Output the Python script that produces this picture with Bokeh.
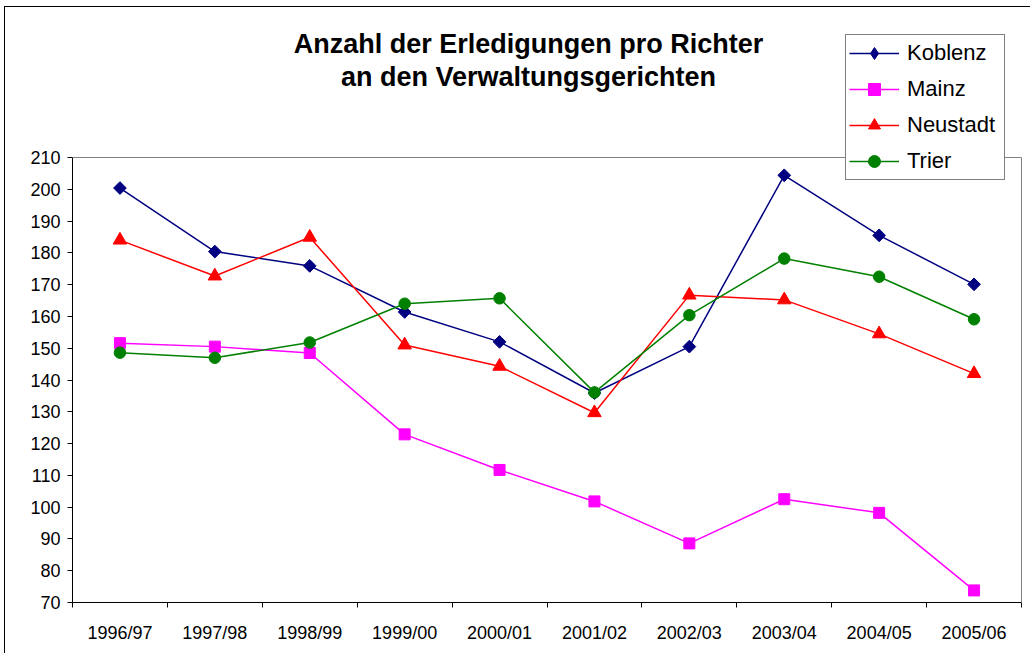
from bokeh.plotting import figure
from bokeh.models import (Range1d, FixedTicker, Legend, LegendItem, Label,
                          LinearAxis, Span)
from bokeh.embed import file_html
from bokeh.resources import INLINE
import numpy as np

categories = ["1996/97", "1997/98", "1998/99", "1999/00", "2000/01",
              "2001/02", "2002/03", "2003/04", "2004/05", "2005/06"]
koblenz = [200.4, 180.4, 175.9, 161.4, 152.0, 135.9, 150.5, 204.4, 185.5, 170.1]
mainz = [151.6, 150.5, 148.5, 122.9, 111.7, 101.8, 88.6, 102.5, 98.2, 73.8]
neustadt = [184.0, 172.7, 184.9, 151.0, 144.3, 129.7, 166.7, 165.2, 154.5, 142.0]
trier = [148.6, 147.0, 151.8, 164.0, 165.7, 136.1, 160.4, 178.2, 172.5, 159.1]
y_ticks = [70, 80, 90, 100, 110, 120, 130, 140, 150, 160, 170, 180, 190, 200, 210]
title_lines = ["Anzahl der Erledigungen pro Richter", "an den Verwaltungsgerichten"]

FONT = "Liberation Sans"

n = len(categories)
xs = list(np.arange(n) + 0.5)

# plot area is 445 px tall for the 70..210 span; the frame reaches up to the
# canvas top so that the title and legend can be drawn above the value area
frame_h = 595
px_per_unit = 445 / (y_ticks[-1] - y_ticks[0])
y_top = y_ticks[0] + frame_h / px_per_unit

p = figure(width=1026, height=647, output_backend="svg", toolbar_location=None,
           x_range=Range1d(0, n), y_range=Range1d(y_ticks[0], y_top),
           x_axis_type=None, y_axis_type=None,
           min_border_left=67, min_border_right=10, min_border_top=0,
           min_border_bottom=52,
           styles={"border-left": "1px solid black", "border-top": "1px solid black",
                   "margin-left": "4px", "margin-top": "6px"})
p.background_fill_color = "white"
p.border_fill_color = "white"
p.outline_line_color = None

# y axis
yax = LinearAxis(ticker=FixedTicker(ticks=y_ticks, minor_ticks=[]))
yax.bounds = (y_ticks[0], y_ticks[-1])
yax.axis_line_color = "black"
yax.major_tick_line_color = "black"
yax.major_tick_out = 5
yax.major_tick_in = 0
yax.minor_tick_line_color = None
yax.major_label_standoff = 7
yax.major_label_text_font = FONT
yax.major_label_text_font_size = "18px"
yax.major_label_text_color = "black"
p.add_layout(yax, "left")

# right border of the plot area
rax = LinearAxis(ticker=FixedTicker(ticks=[], minor_ticks=[]))
rax.bounds = (y_ticks[0], y_ticks[-1])
rax.axis_line_color = "#808080"
rax.major_tick_line_color = None
rax.minor_tick_line_color = None
rax.major_label_text_font_size = "0px"
p.add_layout(rax, "right")

# x axis (labels at category centres, ticks at boundaries)
xax = LinearAxis(ticker=FixedTicker(ticks=xs, minor_ticks=list(range(n + 1))))
xax.major_label_overrides = {float(x): c for x, c in zip(xs, categories)}
xax.axis_line_color = "black"
xax.major_tick_line_color = None
xax.major_tick_out = 0
xax.major_tick_in = 0
xax.minor_tick_line_color = "black"
xax.minor_tick_out = 5
xax.minor_tick_in = 0
xax.major_label_standoff = 15
xax.major_label_text_font = FONT
xax.major_label_text_font_size = "18px"
xax.major_label_text_color = "black"
p.add_layout(xax, "below")

p.ygrid.ticker = FixedTicker(ticks=y_ticks[:-1])
p.ygrid.grid_line_color = "#303030"
p.ygrid.grid_line_width = 1
p.xgrid.visible = False

# top border of the plot area
p.add_layout(Span(location=y_ticks[-1], dimension="width",
                  line_color="#808080", line_width=1))

series = [
    ("Koblenz", koblenz, "#000080", "square", 9, np.pi / 4, "diamond"),
    ("Mainz", mainz, "#FF00FF", "square", 11, 0, None),
    ("Neustadt", neustadt, "#FF0000", "triangle", 13.5, 0, None),
    ("Trier", trier, "#008000", "circle", 11.5, 0, None),
]
items = []
for name, vals, col, mk, sz, ang, legend_marker in series:
    lr = p.line(xs, vals, line_color=col, line_width=1.5)
    sr = p.scatter(xs, vals, marker=mk, size=sz, angle=ang,
                   fill_color=col, line_color=col)
    if legend_marker is not None:
        # legend glyphs are never rotated, so use the diamond shape there
        # (a legend-only renderer whose single point is not drawable)
        sr = p.scatter(x=[float("nan")], y=[float("nan")], marker=legend_marker,
                       size=sz, fill_color=col, line_color=col)
    items.append(LegendItem(label=name, renderers=[lr, sr]))

legend = Legend(items=items, location=(773, 422))
legend.border_line_color = "black"
legend.border_line_width = 1
legend.background_fill_color = "white"
legend.background_fill_alpha = 1
legend.label_text_font = FONT
legend.label_text_font_size = "22px"
legend.label_text_color = "black"
legend.padding = 3
legend.spacing = 6
legend.label_height = 30
legend.label_width = 94
legend.glyph_height = 30
legend.glyph_width = 50
legend.label_standoff = 8
legend.margin = 0
p.add_layout(legend)

for txt, yy in zip(title_lines, [559, 526]):
    p.add_layout(Label(x=456, y=yy, x_units="screen", y_units="screen", text=txt,
                       text_font=FONT, text_font_size="27px", text_font_style="bold",
                       text_align="center", text_baseline="alphabetic",
                       text_color="black"))

open("out.html", "w").write(file_html(p, INLINE))
